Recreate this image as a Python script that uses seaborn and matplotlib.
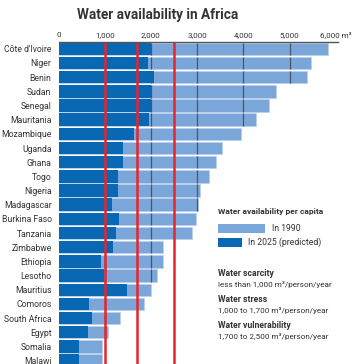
import matplotlib
matplotlib.use("Agg")
import matplotlib.pyplot as plt
import seaborn as sns
import pandas as pd
from matplotlib.patches import Rectangle

countries = ["Côte d'Ivoire", "Niger", "Benin", "Sudan", "Senegal", "Mauritania",
             "Mozambique", "Uganda", "Ghana", "Togo", "Nigeria", "Madagascar",
             "Burkina Faso", "Tanzania", "Zimbabwe", "Ethiopia", "Lesotho",
             "Mauritius", "Comoros", "South Africa", "Egypt", "Somalia", "Malawi"]
avail_1990 = [5840, 5470, 5380, 4710, 4560, 4280, 3940, 3540, 3400, 3260, 3070, 3030,
              2980, 2890, 2270, 2270, 2130, 2000, 1840, 1340, 1070, 940, 940]
avail_2025 = [1995, 1945, 2065, 2000, 2000, 1960, 1640, 1400, 1400, 1295, 1295, 1160,
              1310, 1250, 1180, 920, 980, 1480, 660, 730, 640, 445, 445]
thresholds = [1000, 1700, 2500]
grid_values = [1000, 2000, 3000, 4000, 5000]
tick_values = [0, 1000, 2000, 3000, 4000, 5000, 6000]
tick_labels = ["0", "1,000", "2,000", "3,000", "4,000", "5,000", "6,000 m³"]

LIGHT = "#7BA6D9"
DARK = "#0868B4"
RED = "#E8242B"
GRID = "#4A5568"
TXT = "#333333"

df = pd.DataFrame({"country": countries, "y1990": avail_1990, "y2025": avail_2025})

sns.set_theme(style="white")
plt.rcParams["font.family"] = ["Roboto", "DejaVu Sans"]

W, H = 356, 364
fig = plt.figure(figsize=(W / 100, H / 100), dpi=100)
left = 58.5 / W
xmax = 6050
width_px = xmax * 0.0462
ax = fig.add_axes([left, 0, width_px / W, 322 / H])

bw = 0.88
sns.barplot(data=df, x="y1990", y="country", color=LIGHT, width=bw, saturation=1,
            ax=ax, orient="h", edgecolor="#B9D0EC", linewidth=0.4)
sns.barplot(data=df, x="y2025", y="country", color=DARK, width=bw, saturation=1,
            ax=ax, orient="h", linewidth=0)

# grid lines only visible over bars
for i, v in enumerate(avail_1990):
    for g in grid_values:
        if g < v:
            ax.vlines(g, i - bw / 2, i + bw / 2, color=GRID, lw=0.9, zorder=3)

for t in thresholds:
    ax.axvline(t, color=RED, lw=1.8, zorder=4)

ax.set_xlim(0, xmax)
ax.set_ylim(22.24, -0.48)
ax.xaxis.tick_top()
ax.set_xticks(tick_values)
ax.set_xticklabels(tick_labels, fontsize=5.8, color=TXT)
ax.tick_params(axis="x", length=0, pad=3)
ax.tick_params(axis="y", length=0, pad=5, labelsize=6.2, labelcolor=TXT)
ax.set_xlabel("")
ax.set_ylabel("")
for s in ["right", "bottom", "left"]:
    ax.spines[s].set_visible(False)
ax.spines["top"].set_color("#555555")
ax.spines["top"].set_linewidth(1.0)
ax.spines["top"].set_zorder(5)

fig.text(158 / W, 1 - 15 / H, "Water availability in Africa", ha="center", va="center",
         fontsize=9.8, fontweight="bold", color=TXT)

# legend
lx = 218 / W
fig.text(lx, 1 - 211 / H, "Water availability per capita", fontsize=6.0,
         fontweight="bold", color=TXT, va="center")
fig.add_artist(Rectangle((lx, 1 - 233 / H), 47 / W, 9 / H, transform=fig.transFigure,
                         facecolor=LIGHT, edgecolor="none"))
fig.text(272 / W, 1 - 228.5 / H, "In 1990", fontsize=6.2, color=TXT, va="center")
fig.add_artist(Rectangle((lx, 1 - 247 / H), 24 / W, 9 / H, transform=fig.transFigure,
                         facecolor=DARK, edgecolor="none"))
fig.text(248 / W, 1 - 242.5 / H, "In 2025 (predicted)", fontsize=6.2, color=TXT, va="center")

notes = [("Water scarcity", "less than 1,000 m³/person/year", 274),
         ("Water stress", "1,000 to 1,700 m³/person/year", 300),
         ("Water vulnerability", "1,700 to 2,500 m³/person/year", 325)]
for head, body, yy in notes:
    fig.text(lx, 1 - yy / H, head, fontsize=6.2, fontweight="bold", color=TXT, va="center")
    fig.text(lx, 1 - (yy + 11) / H, body, fontsize=5.9, color=TXT, va="center")

fig.savefig("out.png", dpi=100)
